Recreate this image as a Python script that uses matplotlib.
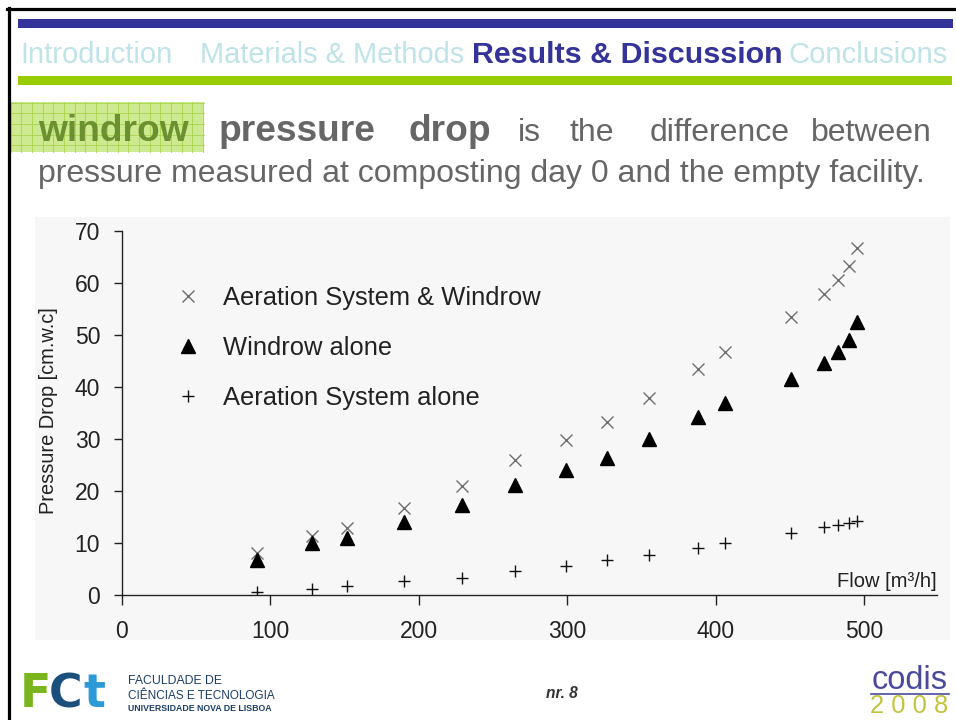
import matplotlib
matplotlib.use("Agg")
import matplotlib.pyplot as plt
from matplotlib.patches import Rectangle
from matplotlib.lines import Line2D
from matplotlib import font_manager

W, H = 956, 720

# data
flow = [91, 128, 152, 190, 229, 265, 299, 327, 355, 388, 406, 451, 473, 482, 490, 495]
system_and_windrow = [8.0, 11.3, 12.8, 16.7, 20.9, 25.9, 29.7, 33.2, 37.8, 43.4, 46.7,
                      53.5, 57.9, 60.5, 63.2, 66.7]
windrow_alone = [6.7, 9.9, 10.9, 14.1, 17.3, 21.1, 24.0, 26.4, 30.0, 34.2, 36.8,
                 41.6, 44.6, 46.7, 49.0, 52.4]
system_alone = [0.5, 1.1, 1.7, 2.6, 3.3, 4.6, 5.6, 6.7, 7.7, 9.0, 10.0,
                11.9, 13.0, 13.4, 13.9, 14.2]
series_labels = ["Aeration System & Windrow", "Windrow alone", "Aeration System alone"]
x_ticks = [0, 100, 200, 300, 400, 500]
y_ticks = [0, 10, 20, 30, 40, 50, 60, 70]

nav_items = ["Introduction", "Materials & Methods", "Results & Discussion", "Conclusions"]
line1_words = ["windrow", "pressure", "drop", "is", "the", "difference", "between"]
line2 = "pressure measured at composting day 0 and the empty facility."

installed = {f.name for f in font_manager.fontManager.ttflist}
narrow = "Liberation Sans Narrow" if "Liberation Sans Narrow" in installed else "Liberation Sans"
plt.rcParams["font.family"] = ["Liberation Sans", "DejaVu Sans"]

fig = plt.figure(figsize=(W / 100, H / 100), dpi=100)
fig.patch.set_facecolor("white")
rend = fig.canvas.get_renderer()


def fx(x):
    return x / W


def fy(y):
    return 1 - y / H


def rect(x0, y0, x1, y1, color, z=1):
    fig.add_artist(Rectangle((fx(x0), fy(y1)), (x1 - x0) / W, (y1 - y0) / H,
                             transform=fig.transFigure, facecolor=color,
                             edgecolor="none", zorder=z))


def put(x0, x1, yb, s, size, va="baseline", **kw):
    t = fig.text(fx(x0), fy(yb), s, fontsize=size, ha="left", va=va, **kw)
    if x1 is not None:
        w = t.get_window_extent(renderer=rend).width
        t.set_fontsize(size * (x1 - x0) / w)
    return t


# slide frame
fig.add_artist(Line2D([fx(7), 1], [fy(9.2), fy(9.2)], transform=fig.transFigure,
                      color="black", lw=2.3))
fig.add_artist(Line2D([fx(8.7), fx(8.7)], [0, fy(8)], transform=fig.transFigure,
                      color="black", lw=2.3))
rect(18, 19, 953, 27.7, "#333399")
rect(18, 76, 952, 85, "#99cc00")

# navigation line
nav_pos = [(20, 172), (200, 464), (472, 782), (789, 948)]
for i, (label, (a, b)) in enumerate(zip(nav_items, nav_pos)):
    active = i == 2
    put(a, b, 62.7, label, 21, family=[narrow, "DejaVu Sans"],
        color="#333399" if active else "#bfe3e8",
        fontweight="bold" if active else "normal")

# highlighted keyword box
rect(10, 101.7, 204, 152.3, "#cdea90", z=1)
gx = 10.5
while gx < 204:
    fig.add_artist(Line2D([fx(gx), fx(gx)], [fy(101.7), fy(152.3)],
                          transform=fig.transFigure, color="#a9d44a", lw=0.6, zorder=1.5))
    gx += 10.7
gy = 102.5
while gy < 152.3:
    fig.add_artist(Line2D([fx(10), fx(204)], [fy(gy), fy(gy)],
                          transform=fig.transFigure, color="#a9d44a", lw=0.6, zorder=1.5))
    gy += 10.7

# body text: regular words share the size of line 2, bold words share one fitted size
t2 = put(37.8, 924, 182.3, line2, 22, color="#666666")
regular_size = t2.get_fontsize()
probe = put(219, 376, 140.7, line1_words[1], 22, fontweight="bold")
bold_size = probe.get_fontsize()
probe.remove()
word_x = [37.8, 219, 408, 518, 570, 650, 811]
for k, (word, a) in enumerate(zip(line1_words, word_x)):
    put(a, None, 140.7, word, bold_size if k < 3 else regular_size,
        color="#6b9030" if k == 0 else "#666666",
        fontweight="bold" if k < 3 else "normal")

# chart background
rect(35, 217, 950, 640, "#f7f7f7", z=-1)

# chart
ax = fig.add_axes([fx(121.7), fy(595), (937 - 121.7) / W, (595 - 230.7) / H])
ax.set_facecolor("none")
ax.plot(flow, system_and_windrow, linestyle="none", marker="x", ms=8, mew=1.0,
        color="#6e6e6e", label=series_labels[0])
ax.plot(flow, windrow_alone, linestyle="none", marker="^", ms=10.5,
        color="black", label=series_labels[1])
ax.plot(flow, system_alone, linestyle="none", marker="+", ms=8.5, mew=1.0,
        color="#111111", label=series_labels[2])

ax.set_xlim(0, 549)
ax.set_ylim(0, 70)
ax.set_xticks(x_ticks)
ax.set_yticks(y_ticks)
for side in ["top", "right"]:
    ax.spines[side].set_visible(False)
for side in ["left", "bottom"]:
    ax.spines[side].set_linewidth(1.0)
    ax.spines[side].set_color("#222222")
ax.tick_params(axis="x", length=7, width=1.0, pad=11, labelsize=16.5,
               colors="#222222")
ax.tick_params(axis="y", length=6, width=1.0, pad=9.5, labelsize=16.5,
               colors="#222222")

ax.set_ylabel("Pressure Drop [cm.w.c]", fontsize=14.4, color="#222222", va="center")
ax.yaxis.set_label_coords(-0.0894, 0.5056)
ax.text(1.0, 0.0228, "Flow [m³/h]", transform=ax.transAxes, ha="right",
        va="baseline", fontsize=14.5, color="#222222")

ax.legend(loc="upper left", bbox_to_anchor=(fx(175), fy(285.5)),
          bbox_transform=fig.transFigure, frameon=False, fontsize=18.4,
          handlelength=1.0, handletextpad=0.88, labelspacing=1.03,
          borderpad=0, borderaxespad=0, labelcolor="#222222")

# footer
put(20, None, 707, "F", 33, color="#7ab51d", fontweight="bold", family="DejaVu Sans")
put(49, None, 707, "C", 33, color="#1b4f7c", fontweight="bold", family="DejaVu Sans")
put(83, None, 707, "t", 33, color="#2b9ad6", fontweight="bold", family="DejaVu Sans")
put(128, 222, 684, "FACULDADE DE", 9, color="#1c3f66", family=[narrow, "DejaVu Sans"])
put(128, 275, 699, "CIÊNCIAS E TECNOLOGIA", 9, color="#1c3f66",
    family=[narrow, "DejaVu Sans"])
put(128, 272, 711, "UNIVERSIDADE NOVA DE LISBOA", 6, color="#1c3f66",
    fontweight="bold", family=[narrow, "DejaVu Sans"])
put(546, 578, 698, "nr. 8", 10, color="#333333", fontstyle="italic", fontweight="bold")
put(872, 948, 689, "codis", 19, color="#4a4a9c")
fig.add_artist(Line2D([fx(871), fx(949)], [fy(694), fy(694)], transform=fig.transFigure,
                      color="#4a4a9c", lw=1.2))
put(870, 948, 718, "2 0 0 8", 12, va="bottom", color="#c4c43c")

fig.savefig("out.png", dpi=100)
